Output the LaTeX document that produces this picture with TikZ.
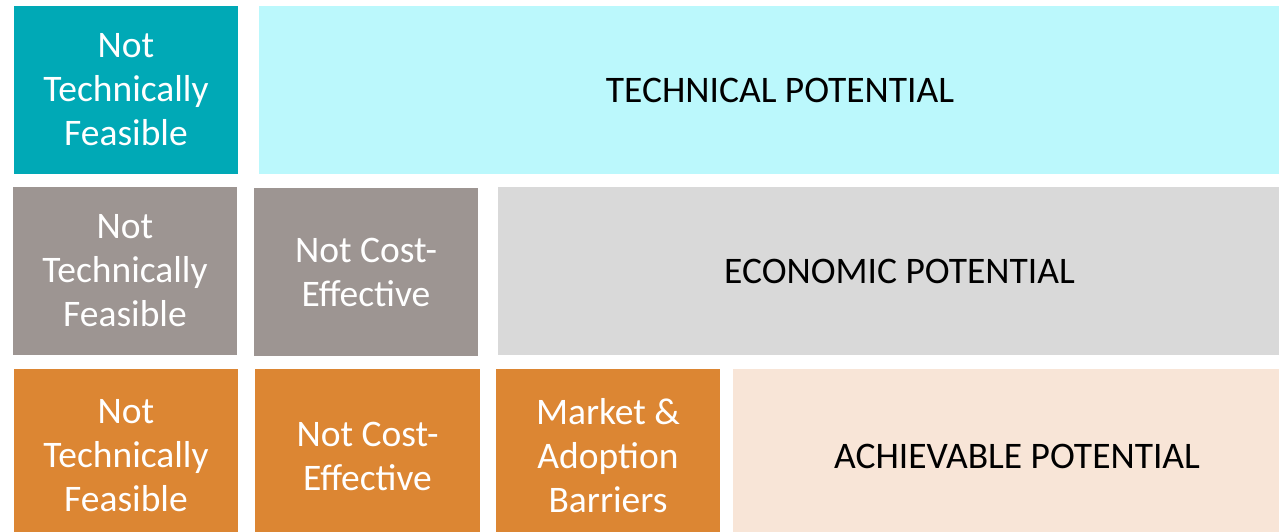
\documentclass[tikz,border=0pt]{standalone}
\usepackage{fontspec}
\setmainfont{Carlito}
\definecolor{teal1}{HTML}{00A9B6}
\definecolor{cyan1}{HTML}{BBF8FC}
\definecolor{gray1}{HTML}{9D9592}
\definecolor{gray2}{HTML}{D9D9D9}
\definecolor{orange1}{HTML}{DC8633}
\definecolor{peach1}{HTML}{F8E5D7}
\begin{document}
\begin{tikzpicture}[x=1pt,y=-1pt,
  cell/.style={inner sep=0pt,outer sep=0pt,align=center,
    font=\fontsize{37.5}{44}\selectfont},
  darkcell/.style={cell,text=white},
  lightcell/.style={cell,text=black},
  r12/.style={minimum height=168pt},
  r3/.style={minimum height=174pt}]
\useasboundingbox (0,0) rectangle (1279,532);
\clip (0,0) rectangle (1279,532);
% row 1
\node[darkcell,r12,fill=teal1,minimum width=224pt] (t1) at (126,90) {Not\\Technically\\Feasible};
\node[lightcell,r12,fill=cyan1,minimum width=1042pt] (t2) at (780,90) {TECHNICAL POTENTIAL};
% row 2
\node[darkcell,r12,fill=gray1,minimum width=224pt] (e1) at (125,271) {Not\\Technically\\Feasible};
\node[darkcell,r12,fill=gray1,minimum width=224pt] (e2) at (366,272) {Not Cost-\\Effective};
\node[lightcell,r12,fill=gray2,minimum width=803pt] (e3) at (899.5,271) {ECONOMIC POTENTIAL};
% row 3
\node[darkcell,r3,fill=orange1,minimum width=224pt] (a1) at (126,456) {Not\\Technically\\Feasible};
\node[darkcell,r3,fill=orange1,minimum width=225pt] (a2) at (367.5,456) {Not Cost-\\Effective};
\node[darkcell,r3,fill=orange1,minimum width=224pt] (a3) at (608,456) {Market \&\\Adoption\\Barriers};
\node[lightcell,r3,fill=peach1,minimum width=568pt] (a4) at (1017,456) {ACHIEVABLE POTENTIAL};
\end{tikzpicture}
\end{document}
